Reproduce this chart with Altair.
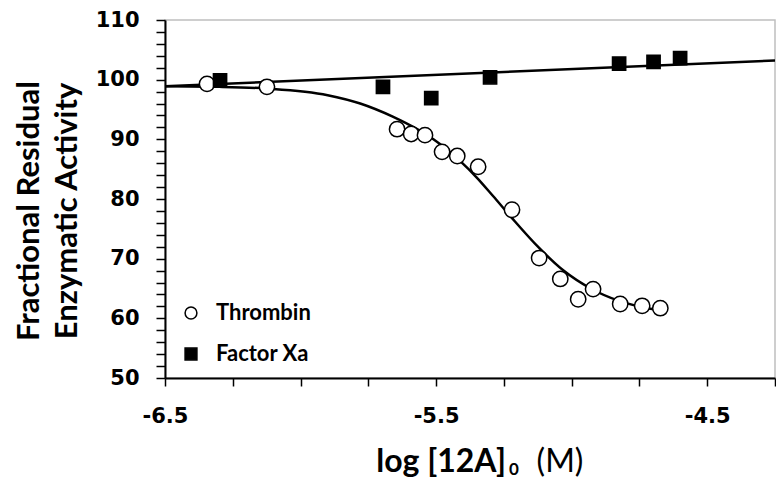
import altair as alt
import pandas as pd

# ---- data ----
thrombin_x = [-6.345, -6.124, -5.644, -5.592, -5.541, -5.478, -5.422, -5.345,
              -5.220, -5.120, -5.042, -4.976, -4.921, -4.821, -4.740, -4.673]
thrombin_y = [99.3, 98.8, 91.7, 90.9, 90.7, 87.9, 87.2, 85.4,
              78.2, 70.1, 66.6, 63.2, 64.9, 62.4, 62.1, 61.7]

factor_x = [-6.297, -5.696, -5.518, -5.301, -4.825, -4.698, -4.600]
factor_y = [99.9, 98.8, 96.9, 100.4, 102.7, 103.0, 103.6]

# fitted sigmoid for thrombin
curve_x = [-6.50, -6.30, -6.12, -5.90, -5.78, -5.66, -5.57, -5.51, -5.41,
           -5.35, -5.29, -5.22, -5.12, -5.03, -4.93, -4.83, -4.71, -4.67]
curve_y = [98.9, 98.8, 98.5, 97.4, 96.0, 93.8, 91.7, 90.0, 86.3,
           83.6, 80.5, 76.8, 71.8, 68.0, 65.0, 63.0, 61.6, 61.3]

# linear fit for factor Xa
line_x = [-6.5, -4.25]
line_y = [98.9, 103.2]

series_names = ["Thrombin", "Factor Xa"]
x_tick_values = [-6.5, -6.25, -6.0, -5.75, -5.5, -5.25, -5.0, -4.75, -4.5, -4.25]
y_tick_values = [50, 52, 54, 56, 58, 60, 62, 64, 66, 68, 70, 72, 74, 76, 78, 80,
                 82, 84, 86, 88, 90, 92, 94, 96, 98, 100, 102, 104, 106, 108, 110]
y_title_lines = ["Fractional Residual", "Enzymatic Activity"]
x_title_main = "log [12A]"
x_title_sub = "0"
x_title_unit = "(M)"

FONT = "Lato"
TICKFONT = "DejaVu Sans"

pts = pd.DataFrame({
    "x": thrombin_x + factor_x,
    "y": thrombin_y + factor_y,
    "series": [series_names[0]] * len(thrombin_x) + [series_names[1]] * len(factor_x),
})
curve_df = pd.DataFrame({"x": curve_x, "y": curve_y})
line_df = pd.DataFrame({"x": line_x, "y": line_y})

xscale = alt.Scale(domain=[-6.5, -4.25], nice=False, zero=False)
yscale = alt.Scale(domain=[50, 110], nice=False, zero=False)

xaxis = alt.Axis(
    values=x_tick_values,
    labelExpr="datum.value == -6.5 ? '-6.5' : datum.value == -5.5 ? '-5.5' : datum.value == -4.5 ? '-4.5' : ''",
    title=None, grid=False, labelFlush=False, labelOverlap=False,
    domainColor="black", domainWidth=2, tickColor="black", tickWidth=1.5, tickSize=8,
    labelFont=TICKFONT, labelFontSize=21, labelFontWeight="bold", labelColor="black",
    labelPadding=19,
)
yaxis = alt.Axis(
    values=y_tick_values,
    labelExpr="datum.value % 10 == 0 ? datum.value : ''",
    title=None, grid=False, labelFlush=False, labelOverlap=False,
    domainColor="black", domainWidth=2, tickColor="black", tickWidth=1.5, tickSize=9,
    labelFont=TICKFONT, labelFontSize=21, labelFontWeight="bold", labelColor="black",
    labelPadding=17,
)

x_enc = alt.X("x:Q", scale=xscale, axis=xaxis)
y_enc = alt.Y("y:Q", scale=yscale, axis=yaxis)

fit_line = alt.Chart(line_df).mark_line(color="black", strokeWidth=2.5).encode(
    x=x_enc, y=y_enc
)
curve = alt.Chart(curve_df).mark_line(color="black", strokeWidth=2.5, interpolate="monotone").encode(
    x=x_enc, y=y_enc
)

points = alt.Chart(pts).mark_point(filled=True, stroke="black", strokeWidth=1.5, opacity=1).encode(
    x=x_enc, y=y_enc,
    shape=alt.Shape("series:N", scale=alt.Scale(domain=series_names, range=["circle", "square"]), legend=None),
    fill=alt.Fill("series:N", scale=alt.Scale(domain=series_names, range=["white", "black"]), legend=None),
    size=alt.Size("series:N", scale=alt.Scale(domain=series_names, range=[235, 175]), legend=None),
)

def txt(s, x, y, size, weight="bold", angle=0, align="left", baseline="alphabetic"):
    return alt.Chart(pd.DataFrame({"t": [s]})).mark_text(
        font=FONT, fontSize=size, fontWeight=weight, angle=angle, align=align,
        baseline=baseline, color="black",
    ).encode(x=alt.value(x), y=alt.value(y), text="t:N")

def sym(shape, fill, x, y):
    return alt.Chart(pd.DataFrame({"s": [shape]})).mark_point(
        shape=shape, filled=True, fill=fill, stroke="black", strokeWidth=1.5,
        size=140, opacity=1,
    ).encode(x=alt.value(x), y=alt.value(y))

# legend (inside the plot, bottom-left)
leg_sym1 = sym("circle", "white", 26, 293)
leg_sym2 = sym("square", "black", 26, 334)
leg_txt1 = txt(series_names[0], 51, 293, 22, baseline="middle")
leg_txt2 = txt(series_names[1], 51, 334, 22, baseline="middle")

ytitle1 = txt(y_title_lines[0], -126, 191, 31, angle=270, align="center")
ytitle2 = txt(y_title_lines[1], -88, 191, 31, angle=270, align="center")
xt_main = txt(x_title_main, 341, 452, 32, align="right")
xt_sub = txt(x_title_sub, 344, 455, 17)
xt_unit = txt(x_title_unit, 395, 452, 32, weight="normal", align="center")

chart = alt.layer(
    fit_line, curve, points,
    leg_sym1, leg_sym2, leg_txt1, leg_txt2,
    ytitle1, ytitle2, xt_main, xt_sub, xt_unit
).properties(
    width=610, height=358,
    padding={"left": 157, "top": 12, "right": 1, "bottom": 100},
    autosize=alt.AutoSizeParams(type="none"),
    background="white",
).configure_view(stroke="#bfbfbf", strokeWidth=1.5)

chart.save("out.html", embed_options={"renderer": "svg", "actions": False})
